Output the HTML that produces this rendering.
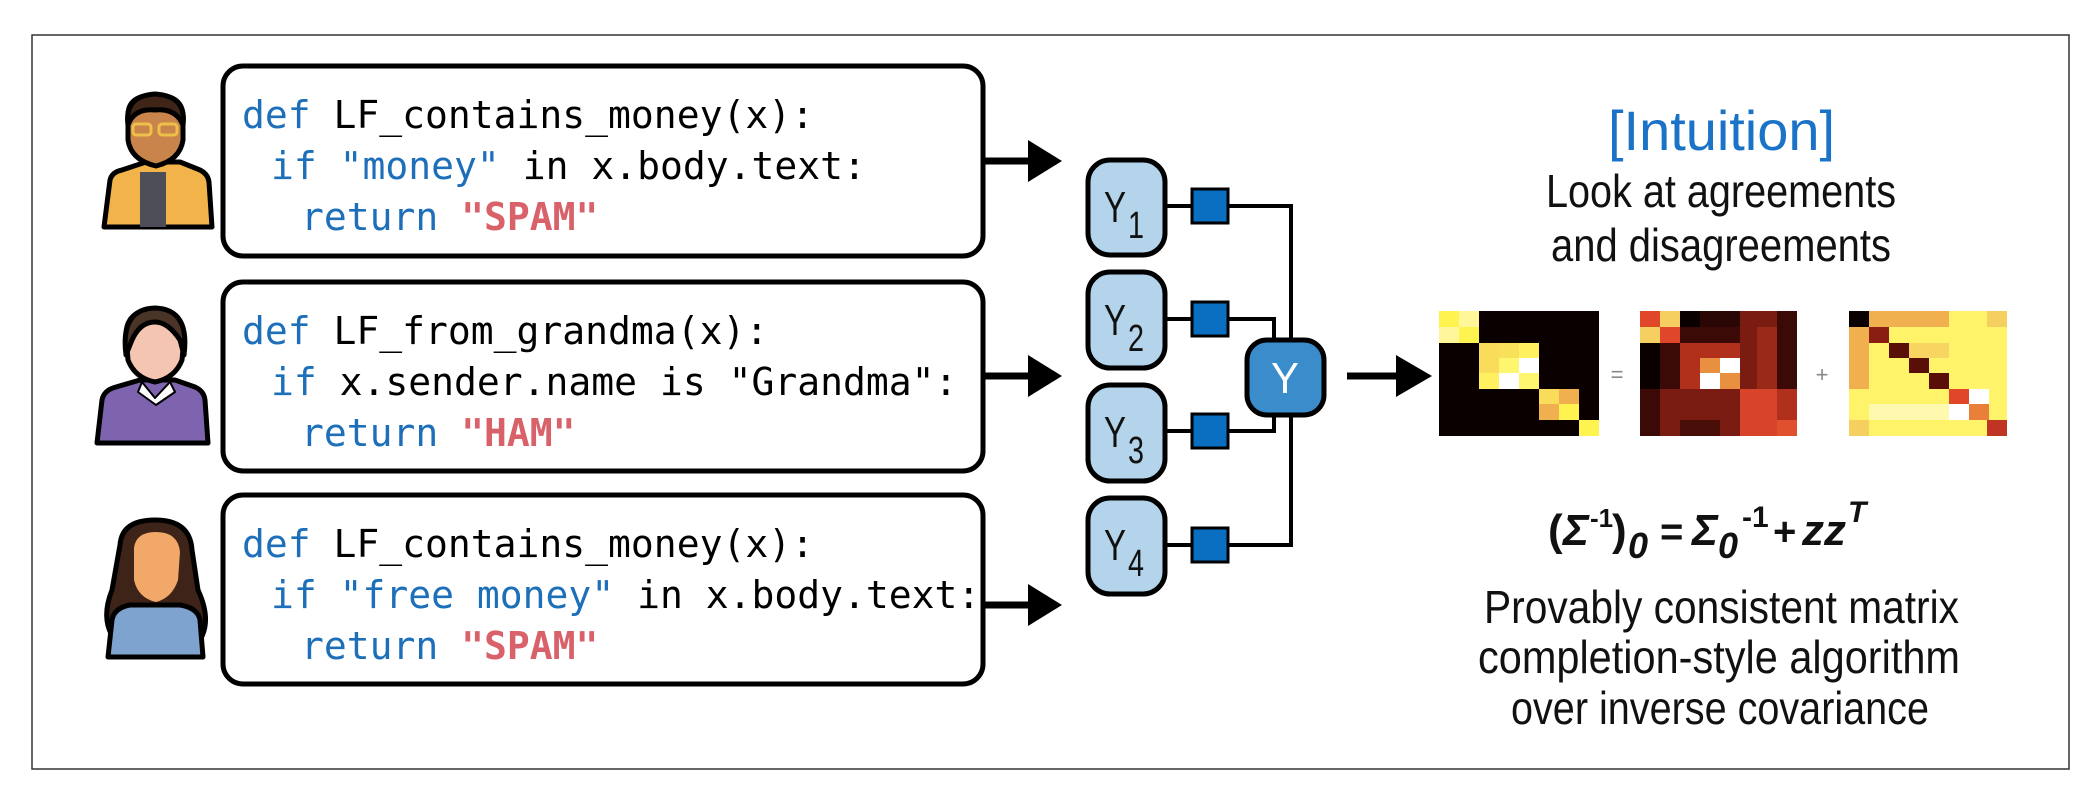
<!DOCTYPE html>
<html><head><meta charset="utf-8"><style>
html,body{margin:0;padding:0;background:#fff}
svg{display:block}
.code{font-family:"DejaVu Sans Mono","Liberation Mono",monospace;font-size:38px;white-space:pre}
.n{font-family:"Liberation Sans",sans-serif}
</style></head><body>
<svg width="2098" height="788" viewBox="0 0 2098 788" xmlns="http://www.w3.org/2000/svg">
<rect x="32" y="35" width="2037" height="734" fill="#fff" stroke="#333" stroke-width="1.5"/>

<g fill="#fff" stroke="#000" stroke-width="5">
<rect x="223" y="66" width="760" height="190" rx="20"/>
<rect x="223" y="282" width="760" height="189" rx="20"/>
<rect x="223" y="495" width="760" height="189" rx="20"/>
</g>
<g class="code">
<text x="242" y="128"><tspan fill="#1c6fb8">def</tspan> LF_contains_money(x):</text>
<text x="271" y="179"><tspan fill="#1c6fb8">if</tspan> <tspan fill="#1c6fb8">"money"</tspan> in x.body.text:</text>
<text x="301" y="230"><tspan fill="#1c6fb8">return</tspan> <tspan fill="#d9626a" font-weight="bold">"SPAM"</tspan></text>

<text x="242" y="344"><tspan fill="#1c6fb8">def</tspan> LF_from_grandma(x):</text>
<text x="271" y="395"><tspan fill="#1c6fb8">if</tspan> x.sender.name is "Grandma":</text>
<text x="301" y="446"><tspan fill="#1c6fb8">return</tspan> <tspan fill="#d9626a" font-weight="bold">"HAM"</tspan></text>

<text x="242" y="557"><tspan fill="#1c6fb8">def</tspan> LF_contains_money(x):</text>
<text x="271" y="608"><tspan fill="#1c6fb8">if</tspan> <tspan fill="#1c6fb8">"free money"</tspan> in x.body.text:</text>
<text x="301" y="659"><tspan fill="#1c6fb8">return</tspan> <tspan fill="#d9626a" font-weight="bold">"SPAM"</tspan></text>
</g>

<g stroke="#000" stroke-width="7">
<line x1="983" y1="161" x2="1032" y2="161"/>
<line x1="983" y1="376" x2="1032" y2="376"/>
<line x1="983" y1="605" x2="1032" y2="605"/>
<line x1="1347" y1="376" x2="1400" y2="376"/>
</g>
<g fill="#000">
<polygon points="1028,140 1062,161 1028,182"/>
<polygon points="1028,355 1062,376 1028,397"/>
<polygon points="1028,584 1062,605 1028,626"/>
<polygon points="1396,355 1432,376 1396,397"/>
</g>

<g fill="none" stroke="#000" stroke-width="4">
<polyline points="1165,206 1291,206 1291,545 1165,545"/>
<polyline points="1165,319 1274,319 1274,345"/>
<polyline points="1165,431 1274,431 1274,410"/>
</g>

<g fill="#b3d4ea" stroke="#000" stroke-width="5">
<rect x="1088" y="160" width="77" height="95" rx="22"/>
<rect x="1088" y="272" width="77" height="96" rx="22"/>
<rect x="1088" y="385" width="77" height="96" rx="22"/>
<rect x="1088" y="498" width="77" height="96" rx="22"/>
</g>
<g fill="#0a6fc0" stroke="#000" stroke-width="3">
<rect x="1192" y="189" width="36" height="34"/>
<rect x="1192" y="302" width="36" height="34"/>
<rect x="1192" y="414" width="36" height="34"/>
<rect x="1192" y="528" width="36" height="34"/>
</g>
<rect x="1247" y="340" width="77" height="75" rx="20" fill="#3a8ccb" stroke="#000" stroke-width="5"/>
<text x="1285" y="393" class="n" font-size="44" fill="#fff" text-anchor="middle" textLength="28" lengthAdjust="spacingAndGlyphs">Y</text>
<g class="n" font-size="44" fill="#111">
<text x="1104" y="222" textLength="22" lengthAdjust="spacingAndGlyphs">Y</text><text x="1128" y="238" font-size="38" textLength="16" lengthAdjust="spacingAndGlyphs">1</text>
<text x="1104" y="335" textLength="22" lengthAdjust="spacingAndGlyphs">Y</text><text x="1128" y="351" font-size="38" textLength="16" lengthAdjust="spacingAndGlyphs">2</text>
<text x="1104" y="447" textLength="22" lengthAdjust="spacingAndGlyphs">Y</text><text x="1128" y="463" font-size="38" textLength="16" lengthAdjust="spacingAndGlyphs">3</text>
<text x="1104" y="560" textLength="22" lengthAdjust="spacingAndGlyphs">Y</text><text x="1128" y="576" font-size="38" textLength="16" lengthAdjust="spacingAndGlyphs">4</text>
</g>

<g class="n" lengthAdjust="spacingAndGlyphs">
<text x="1608" y="150" font-size="56" fill="#1a73c6" textLength="227" lengthAdjust="spacingAndGlyphs">[Intuition]</text>
<text x="1546" y="207" font-size="46" fill="#111" textLength="350" lengthAdjust="spacingAndGlyphs">Look at agreements</text>
<text x="1551" y="261" font-size="46" fill="#111" textLength="340" lengthAdjust="spacingAndGlyphs">and disagreements</text>
<text x="1484" y="623" font-size="46" fill="#111" textLength="475" lengthAdjust="spacingAndGlyphs">Provably consistent matrix</text>
<text x="1478" y="673" font-size="46" fill="#111" textLength="482" lengthAdjust="spacingAndGlyphs">completion-style algorithm</text>
<text x="1511" y="724" font-size="46" fill="#111" textLength="418" lengthAdjust="spacingAndGlyphs">over inverse covariance</text>
</g>
<g class="n" fill="#111" font-weight="bold">
<text x="1548" y="545" font-size="44">(</text>
<text x="1563" y="545" font-size="44" font-style="italic">Σ</text>
<text x="1590" y="527" font-size="26">-1</text>
<text x="1612" y="545" font-size="44">)</text>
<text x="1628" y="558" font-size="36" font-style="italic">0</text>
<text x="1660" y="545" font-size="40">=</text>
<text x="1692" y="545" font-size="44" font-style="italic">Σ</text>
<text x="1718" y="558" font-size="36" font-style="italic">0</text>
<text x="1742" y="527" font-size="30">-1</text>
<text x="1773" y="545" font-size="40">+</text>
<text x="1802" y="545" font-size="44" font-style="italic">zz</text>
<text x="1848" y="522" font-size="30" font-style="italic">T</text>
</g>
<text x="1617" y="382" font-size="22" fill="#888" text-anchor="middle" font-family="Liberation Sans,sans-serif">=</text>
<text x="1822" y="382" font-size="22" fill="#888" text-anchor="middle" font-family="Liberation Sans,sans-serif">+</text>

<g stroke="#000" stroke-width="5" stroke-linejoin="round">
 <path d="M104,227 L110,180 Q112,172 122,170 L146,162 L180,162 L200,170 Q208,174 209,182 L212,227 Z" fill="#f2b44a"/>
 <rect x="140" y="172" width="26" height="55" fill="#4e4e58" stroke="none"/>
 <path d="M128,115 Q128,95 155,95 Q184,95 183,118 L183,140 Q180,160 156,166 Q131,160 128,140 Z" fill="#c8844a"/>
 <path d="M128,125 Q124,96 155,94 Q187,96 183,125 Q176,108 155,110 Q134,108 128,125 Z" fill="#3f2518"/>
 <g fill="none" stroke="#eec04a" stroke-width="3"><rect x="133" y="124" width="18" height="11" rx="3"/><rect x="159" y="124" width="18" height="11" rx="3"/></g>
 <path d="M97,443 L102,400 Q104,390 116,387 L140,380 L175,380 L195,387 Q204,391 205,400 L208,443 Z" fill="#7e64ae"/>
 <path d="M142,382 L155,398 L170,382 L175,392 L156,405 L138,392 Z" fill="#fff" stroke-width="2"/>
 <path d="M126,335 Q126,310 155,309 Q184,310 184,338 L182,360 Q175,378 155,382 Q135,378 128,360 Z" fill="#f4c5b0"/>
 <path d="M126,355 Q120,309 155,308 Q190,309 184,355 L180,340 Q168,322 155,322 Q140,322 132,340 Z" fill="#4a3428"/>
 <path d="M120,545 Q122,520 155,520 Q190,520 192,550 L198,590 Q212,620 200,640 L115,640 Q100,620 112,590 Z" fill="#3e2418"/>
 <path d="M108,657 L112,620 Q114,608 130,605 L180,605 Q198,608 200,620 L203,657 Z" fill="#7fa3cf"/>
 <path d="M134,548 Q136,532 156,532 Q178,532 180,552 L178,580 Q172,598 156,602 Q138,598 134,580 Z" fill="#f2a868" stroke="none"/>
</g>

<g transform="translate(1439,311)">
<rect x="0" y="0" width="160" height="125" fill="#0a0000"/>
<rect x="0" y="0" width="20" height="16" fill="#fff44f"/><rect x="20" y="0" width="20" height="16" fill="#fff79a"/>
<rect x="0" y="16" width="20" height="16" fill="#fff79a"/><rect x="20" y="16" width="20" height="16" fill="#fff44f"/>
<rect x="40" y="32" width="20" height="15" fill="#f8dc5a"/><rect x="60" y="32" width="20" height="15" fill="#f8e05a"/><rect x="80" y="32" width="20" height="15" fill="#fff060"/>
<rect x="40" y="47" width="20" height="15" fill="#f8dc5a"/><rect x="60" y="47" width="20" height="15" fill="#fff670"/><rect x="80" y="47" width="20" height="15" fill="#fff"/>
<rect x="40" y="62" width="20" height="16" fill="#fff060"/><rect x="60" y="62" width="20" height="16" fill="#fff"/><rect x="80" y="62" width="20" height="16" fill="#fff670"/>
<rect x="100" y="78" width="20" height="15" fill="#f8dc5a"/><rect x="120" y="78" width="20" height="15" fill="#f0b050"/>
<rect x="100" y="93" width="20" height="16" fill="#f0b050"/><rect x="120" y="93" width="20" height="16" fill="#fff44f"/>
<rect x="140" y="109" width="20" height="16" fill="#fff44f"/>
</g>
<g transform="translate(1640,311)">
<rect width="157" height="125" fill="#7a1c12"/>
<rect x="0" y="0" width="20" height="16" fill="#e0462a"/><rect x="20" y="0" width="20" height="16" fill="#f5d060"/><rect x="40" y="0" width="20" height="16" fill="#0a0000"/><rect x="60" y="0" width="40" height="16" fill="#2a0604"/><rect x="137" y="0" width="20" height="16" fill="#3c0a06"/>
<rect x="0" y="16" width="20" height="16" fill="#f5d060"/><rect x="20" y="16" width="20" height="16" fill="#e0462a"/><rect x="40" y="16" width="60" height="16" fill="#3c0a06"/><rect x="117" y="16" width="20" height="16" fill="#9a2a18"/><rect x="137" y="16" width="20" height="16" fill="#3c0a06"/>
<rect x="0" y="32" width="20" height="46" fill="#0a0000"/><rect x="20" y="32" width="20" height="46" fill="#3c0a06"/><rect x="40" y="32" width="60" height="46" fill="#b0301c"/><rect x="117" y="32" width="20" height="46" fill="#9a2a18"/><rect x="137" y="32" width="20" height="46" fill="#3c0a06"/>
<rect x="60" y="47" width="20" height="15" fill="#e89040"/><rect x="80" y="47" width="20" height="15" fill="#fff"/>
<rect x="60" y="62" width="20" height="16" fill="#fff"/><rect x="80" y="62" width="20" height="16" fill="#e89040"/>
<rect x="0" y="78" width="20" height="47" fill="#3c0a06"/><rect x="100" y="78" width="37" height="47" fill="#d8442a"/><rect x="137" y="78" width="20" height="47" fill="#b0301c"/>
<rect x="40" y="109" width="40" height="16" fill="#4a0e08"/><rect x="137" y="109" width="20" height="16" fill="#e0502e"/>
</g>
<g transform="translate(1849,311)">
<rect width="158" height="125" fill="#fff36a"/>
<rect x="0" y="0" width="20" height="16" fill="#0a0000"/><rect x="20" y="0" width="80" height="16" fill="#f0b050"/><rect x="138" y="0" width="20" height="16" fill="#f5d060"/>
<rect x="0" y="16" width="20" height="62" fill="#f0b050"/>
<rect x="20" y="16" width="20" height="16" fill="#8a1e12"/>
<rect x="40" y="32" width="20" height="15" fill="#5a0e08"/><rect x="60" y="32" width="40" height="15" fill="#f8d460"/>
<rect x="60" y="47" width="20" height="15" fill="#5a0e08"/>
<rect x="80" y="62" width="20" height="16" fill="#5a0e08"/>
<rect x="100" y="78" width="20" height="15" fill="#e0462a"/><rect x="120" y="78" width="20" height="15" fill="#fff"/>
<rect x="100" y="93" width="20" height="16" fill="#fff"/><rect x="120" y="93" width="20" height="16" fill="#e8803a"/><rect x="20" y="93" width="80" height="16" fill="#fff9b0"/>
<rect x="0" y="109" width="20" height="16" fill="#f5d060"/><rect x="138" y="109" width="20" height="16" fill="#c03424"/>
</g>
</svg>
</body></html>
